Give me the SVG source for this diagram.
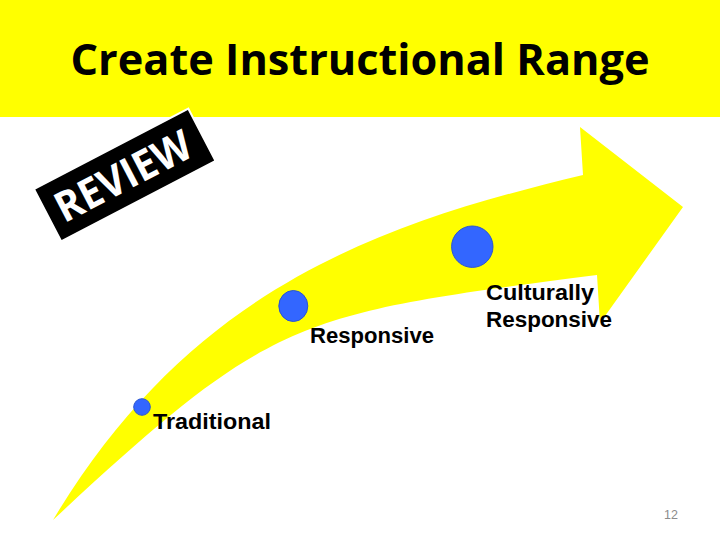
<svg xmlns="http://www.w3.org/2000/svg" width="720" height="540" viewBox="0 0 720 540">
  <style>
    .lbl { font-family: "Liberation Sans", "Open Sans", sans-serif; font-weight: 700; font-size: 22px; fill: #000; }
    .dot { fill: #3366ff; stroke: #2a55d0; stroke-width: 1; }
  </style>
  <rect x="0" y="0" width="720" height="540" fill="#ffffff"/>
  <g id="header">
    <rect x="0" y="0" width="720" height="117" fill="#ffff00"/>
    <text x="70.5" y="75" font-family="'Open Sans', 'Liberation Sans', sans-serif" font-weight="700" font-size="43" textLength="579" lengthAdjust="spacingAndGlyphs" fill="#000">Create Instructional Range</text>
  </g>
  <g id="arrow">
    <path d="M53,520 C193,286 383,223 583,175 L580,127 L683,207 L600,323 L597,275 C297,314 273,315 53,520 Z" fill="#ffff00"/>
  </g>
  <g id="review-stamp" transform="translate(124.75,175) rotate(-27.5)">
    <rect x="-87" y="-29.5" width="174" height="59" fill="#000" stroke="#ffffff" stroke-width="2"/>
    <text x="-2" y="15" text-anchor="middle" font-family="'Open Sans', 'Liberation Sans', sans-serif" font-weight="700" font-size="42" textLength="148" lengthAdjust="spacingAndGlyphs" fill="#ffffff">REVIEW</text>
  </g>
  <g id="node-traditional">
    <circle class="dot" cx="142" cy="407" r="8.3"/>
    <text class="lbl" x="153" y="429" textLength="118" lengthAdjust="spacingAndGlyphs">Traditional</text>
  </g>
  <g id="node-responsive">
    <ellipse class="dot" cx="293.3" cy="306" rx="14.5" ry="15.5"/>
    <text class="lbl" x="310" y="343.3" textLength="124" lengthAdjust="spacingAndGlyphs">Responsive</text>
  </g>
  <g id="node-culturally-responsive">
    <circle class="dot" cx="472.3" cy="246.7" r="20.7"/>
    <text class="lbl" x="486" y="300" textLength="108" lengthAdjust="spacingAndGlyphs">Culturally</text>
    <text class="lbl" x="486" y="327.3" textLength="126" lengthAdjust="spacingAndGlyphs">Responsive</text>
  </g>
  <g id="connectors"></g>
  <text x="664" y="519" font-family="'Liberation Sans', sans-serif" font-size="12.5" fill="#8c8c8c">12</text>
</svg>
